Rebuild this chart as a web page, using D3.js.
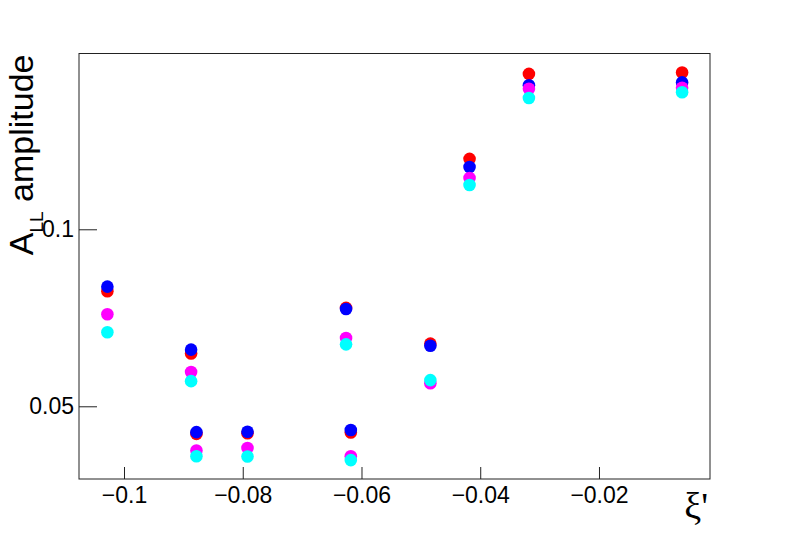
<!doctype html>
<html>
<head>
<meta charset="utf-8">
<style>
  body { margin: 0; background: #fff; }
  svg text { font-family: "Liberation Sans", Arial, sans-serif; fill: #000; }
</style>
<script src="https://cdnjs.cloudflare.com/ajax/libs/d3/7.8.5/d3.min.js"></script>
</head>
<body>
<script>
// xi' positions of the points
var xi = [-0.1028, -0.0887, -0.0878, -0.0792, -0.0626, -0.0618, -0.0484, -0.0418, -0.0318, -0.0060];
// A_LL amplitude, one array per series (drawn in this order)
var redVals     = [0.0825, 0.0649, 0.0422, 0.0424, 0.0778, 0.0426, 0.0677, 0.1199, 0.1439, 0.1443];
var blueVals    = [0.0838, 0.0660, 0.0427, 0.0428, 0.0775, 0.0433, 0.0671, 0.1176, 0.1407, 0.1415];
var magentaVals = [0.0760, 0.0597, 0.0375, 0.0382, 0.0693, 0.0359, 0.0565, 0.1145, 0.1397, 0.1400];
var cyanVals    = [0.0709, 0.0571, 0.0359, 0.0358, 0.0675, 0.0348, 0.0574, 0.1125, 0.1371, 0.1387];

var xTicks = [-0.1, -0.08, -0.06, -0.04, -0.02];
var xTickLabels = ["\u22120.1", "\u22120.08", "\u22120.06", "\u22120.04", "\u22120.02"];
var yTicks = [0.05, 0.1];
var yTickLabels = ["0.05", "0.1"];

var series = [
  {name: "red", color: "#ff0000", values: redVals},
  {name: "blue", color: "#0000ff", values: blueVals},
  {name: "magenta", color: "#ff00ff", values: magentaVals},
  {name: "cyan", color: "#00ffff", values: cyanVals}
];

const width = 789, height = 533;
const frameL = 79, frameR = 710, frameT = 53.5, frameB = 479;

var svg = d3.select("body").append("svg")
  .attr("width", width)
  .attr("height", height);

var x = d3.scaleLinear().domain([-0.10758, -0.00130]).range([frameL, frameR]);
var y = d3.scaleLinear().domain([0.02946, 0.14966]).range([frameB, frameT]);

// frame
svg.append("rect")
  .attr("x", frameL).attr("y", frameT)
  .attr("width", frameR - frameL).attr("height", frameB - frameT)
  .attr("fill", "none").attr("stroke", "#222").attr("stroke-width", 1);

var xAxis = d3.axisBottom(x)
  .tickValues(xTicks)
  .tickFormat((d, i) => xTickLabels[i])
  .tickSizeInner(-12).tickSizeOuter(0).tickPadding(8);

var gx = svg.append("g")
  .attr("transform", "translate(0," + frameB + ")")
  .call(xAxis);
gx.select(".domain").remove();
gx.selectAll("line").attr("stroke", "#222");
gx.selectAll("text").style("font-size", "23px");

var yAxis = d3.axisLeft(y)
  .tickValues(yTicks)
  .tickFormat((d, i) => yTickLabels[i])
  .tickSizeInner(-18).tickSizeOuter(0).tickPadding(5);

var gy = svg.append("g")
  .attr("transform", "translate(" + frameL + ",0)")
  .call(yAxis);
gy.select(".domain").remove();
gy.selectAll("line").attr("stroke", "#222");
gy.selectAll("text").style("font-size", "23px");

// points
series.forEach(function(s) {
  svg.append("g")
    .attr("class", "series-" + s.name)
    .selectAll("circle")
    .data(s.values)
    .enter()
    .append("circle")
    .attr("cx", (d, i) => x(xi[i]))
    .attr("cy", d => y(d))
    .attr("r", 6.3)
    .attr("fill", s.color);
});

// axis titles
svg.append("text")
  .attr("x", frameR - 2).attr("y", 519)
  .attr("text-anchor", "end")
  .style("font-family", "'Liberation Serif', 'DejaVu Serif', serif")
  .style("font-size", "38px")
  .text("\u03BE'");

var yt = svg.append("text")
  .attr("transform", "translate(33," + (frameT + 1) + ") rotate(-90)")
  .attr("text-anchor", "end")
  .style("font-size", "34px");
yt.append("tspan").text("A");
yt.append("tspan").attr("dy", 10).style("font-size", "19px").text("LL");
yt.append("tspan").attr("dy", -10).text(" amplitude");
</script>
</body>
</html>
